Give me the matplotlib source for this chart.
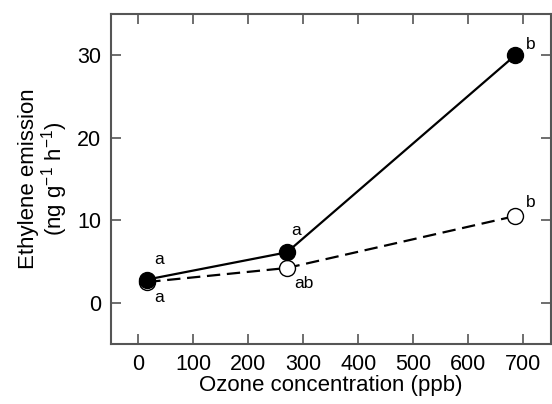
import numpy as np
import matplotlib
matplotlib.use("Agg")
import matplotlib.pyplot as plt

plt.rcParams['font.family'] = ['Liberation Sans', 'DejaVu Sans']
plt.rcParams['mathtext.fontset'] = 'custom'
plt.rcParams['mathtext.rm'] = 'Liberation Sans'

ozone = [16, 270, 685]
filled = [2.8, 6.1, 30.0]
opened = [2.5, 4.2, 10.5]
filled_letters = ["a", "a", "b"]
open_letters = ["a", "ab", "b"]

fig = plt.figure(figsize=(5.52, 4.04), dpi=100)
ax = fig.add_axes([0.201, 0.149, 0.797, 0.816])

ax.plot(ozone, opened, '--', color='black', lw=1.6, dashes=(6, 3),
        marker='o', ms=11.5, mfc='white', mec='black', mew=1.0, zorder=2)
ax.plot(ozone, filled, '-', color='black', lw=1.6,
        marker='o', ms=11.5, mfc='black', mec='black', zorder=3)

# letters, offsets in points from the marker
f_off = [(8.6, 14.4), (6.5, 16), (11, 8)]
o_off = [(8.6, -11), (12, -11.5), (11, 10)]
for x, y, t, o in zip(ozone, filled, filled_letters, f_off):
    ax.annotate(t, (x, y), xytext=o, textcoords='offset points', fontsize=12.5,
                ha='center', va='center')
for x, y, t, o in zip(ozone, opened, open_letters, o_off):
    ax.annotate(t, (x, y), xytext=o, textcoords='offset points', fontsize=12.5,
                ha='center', va='center')

ax.set_xlim(-50, 750)
ax.set_ylim(-5, 35)
ax.set_xticks(np.arange(0, 800, 100))
ax.set_yticks([0, 10, 20, 30])
ax.tick_params(direction='in', length=7, width=1.2, color='#555555', labelsize=15.5,
               top=True, right=True, pad=7)
for s in ax.spines.values():
    s.set_color('#555555')
    s.set_linewidth(1.5)

ax.set_xlabel('Ozone concentration (ppb)', fontsize=16, labelpad=0)
ax.set_ylabel('Ethylene emission\n(ng g$^{\\mathregular{-1}}$ h$^{\\mathregular{-1}}$)', fontsize=16,
              linespacing=1.0, labelpad=5)

plt.savefig('out.png', dpi=100)
plt.close()
